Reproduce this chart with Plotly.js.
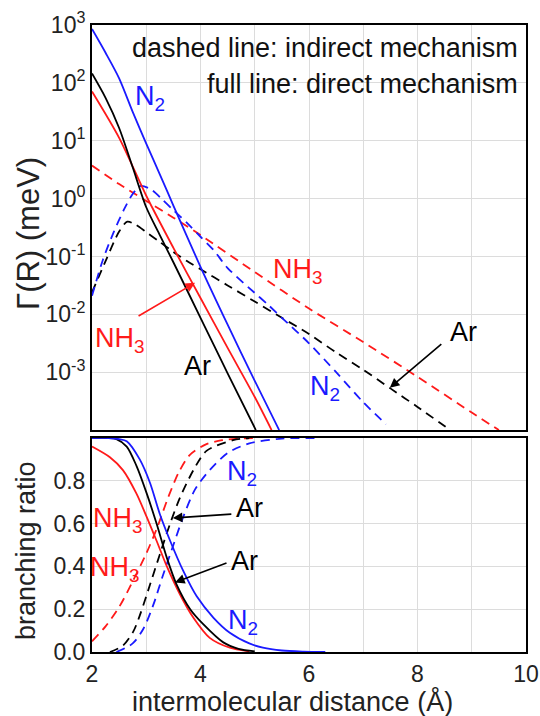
<!DOCTYPE html>
<html>
<head>
<meta charset="utf-8">
<script src="https://cdn.plot.ly/plotly-3.0.1.min.js"></script>
<style>html,body{margin:0;padding:0;background:#fff;}#chart{width:540px;height:716px;}</style>
</head>
<body>
<div id="chart"></div>
<script>
// ---------- Top panel: decay widths Γ(R) in meV ----------
const R_N2_direct  = [2.0, 2.25, 2.5, 2.75, 3.0, 3.25, 3.5, 4.0, 4.5, 5.0, 5.45];
const G_N2_direct  = [851, 331, 120, 31.6, 8.91, 2.63, 0.759, 0.0661, 0.00661, 0.000708, 0.0001];
const R_Ar_direct  = [2.0, 2.25, 2.5, 2.75, 3.0, 3.25, 3.5, 4.0, 4.5, 5.02];
const G_Ar_direct  = [145, 55.0, 16.6, 3.47, 0.708, 0.234, 0.0794, 0.00871, 0.000955, 0.0001];
const R_NH3_direct = [2.0, 2.5, 3.0, 3.5, 4.0, 4.5, 5.0, 5.31];
const G_NH3_direct = [70.8, 11.2, 1.12, 0.141, 0.0191, 0.00263, 0.000372, 0.0001];

const R_N2_indirect  = [2.0, 2.2, 2.4, 2.6, 2.75, 2.9, 3.1, 3.3, 3.5, 3.75, 4.0, 4.25, 4.5, 5.0, 5.25, 5.5, 6.0, 6.5, 7.0, 7.42];
const G_N2_indirect  = [0.0209, 0.0871, 0.263, 0.676, 1.20, 1.66, 1.41, 0.955, 0.631, 0.380, 0.219, 0.126, 0.0631, 0.0234, 0.0145, 0.00871, 0.00316, 0.001, 0.000302, 0.000126];
const R_Ar_indirect  = [2.0, 2.25, 2.5, 2.65, 2.8, 3.0, 3.25, 3.5, 3.75, 4.0, 4.5, 5.0, 5.5, 6.0, 6.5, 7.0, 7.5, 8.0, 8.6];
const G_Ar_indirect  = [0.024, 0.0832, 0.269, 0.398, 0.355, 0.263, 0.178, 0.120, 0.0832, 0.0603, 0.0316, 0.0166, 0.00871, 0.00457, 0.00219, 0.0011, 0.000525, 0.000251, 0.0001];
const R_NH3_indirect = [2.0, 2.5, 3.0, 3.5, 4.0, 5.0, 6.0, 7.0, 8.0, 9.0, 9.5];
const G_NH3_indirect = [3.72, 1.78, 0.912, 0.468, 0.234, 0.0537, 0.0126, 0.00331, 0.000832, 0.0002, 0.0001];

// ---------- Bottom panel: branching ratios ----------
const RB_N2_direct  = [2.0, 2.3, 2.5, 2.64, 2.88, 3.07, 3.25, 3.44, 3.68, 3.93, 4.24, 4.54, 4.9, 5.15, 5.5, 5.9, 6.3];
const B_N2_direct   = [1.0, 1.0, 0.995, 0.985, 0.9, 0.79, 0.645, 0.52, 0.38, 0.26, 0.16, 0.09, 0.04, 0.02, 0.007, 0.002, 0.0];
const RB_Ar_direct  = [2.0, 2.3, 2.45, 2.64, 2.82, 3.01, 3.19, 3.38, 3.56, 3.81, 4.05, 4.42, 4.7, 5.0];
const B_Ar_direct   = [1.0, 1.0, 0.995, 0.96, 0.87, 0.74, 0.6, 0.44, 0.315, 0.2, 0.13, 0.045, 0.015, 0.003];
const RB_NH3_direct = [2.0, 2.33, 2.57, 2.82, 3.01, 3.19, 3.38, 3.62, 3.87, 4.17, 4.54, 4.9];
const B_NH3_direct  = [0.96, 0.91, 0.85, 0.74, 0.63, 0.52, 0.40, 0.27, 0.16, 0.066, 0.02, 0.003];

const RB_N2_indirect  = [2.45, 2.75, 2.95, 3.13, 3.31, 3.5, 3.68, 3.9, 4.17, 4.5, 4.9, 5.5, 6.15];
const B_N2_indirect   = [0.0, 0.04, 0.11, 0.22, 0.36, 0.5, 0.63, 0.76, 0.85, 0.93, 0.975, 0.997, 1.0];
const RB_Ar_indirect  = [2.33, 2.57, 2.76, 2.88, 3.07, 3.25, 3.44, 3.62, 3.87, 4.11, 4.6, 4.9];
const B_Ar_indirect   = [0.0, 0.03, 0.095, 0.17, 0.315, 0.456, 0.6, 0.72, 0.85, 0.94, 0.99, 1.0];
const RB_NH3_indirect = [2.0, 2.25, 2.5, 2.75, 3.0, 3.2, 3.4, 3.6, 3.8, 4.1, 4.4, 5.0];
const B_NH3_indirect  = [0.05, 0.12, 0.21, 0.33, 0.46, 0.58, 0.72, 0.84, 0.92, 0.97, 0.99, 1.0];

// ---------- Axis tick labels ----------
const xTickVals = [2, 3, 4, 5, 6, 7, 8, 9, 10];
const xTickText = ['2', '', '4', '', '6', '', '8', '', '10'];
const yTopTickVals = [1e-4, 1e-3, 1e-2, 1e-1, 1e0, 1e1, 1e2, 1e3];
const yTopTickText = ['', '10<sup>-3</sup>', '10<sup>-2</sup>', '10<sup>-1</sup>', '10<sup>0</sup>', '10<sup>1</sup>', '10<sup>2</sup>', '10<sup>3</sup>'];
const yBotTickVals = [0, 0.2, 0.4, 0.6, 0.8, 1.0];
const yBotTickText = ['0.0', '0.2', '0.4', '0.6', '0.8', ''];

const BLUE = '#1a1aff', RED = '#ff1a1a', BLACK = '#000000';
const DASH = '9px,6px';
const FONT = 'Liberation Sans, Arial, sans-serif';

function tr(x, y, color, dashed, xa, ya) {
  return {x: x, y: y, xaxis: xa, yaxis: ya, type: 'scatter', mode: 'lines',
    line: {color: color, width: 1.8, dash: dashed ? DASH : 'solid', shape: 'spline', smoothing: 0.8},
    hoverinfo: 'skip', showlegend: false};
}

const data = [
  tr(R_NH3_indirect, G_NH3_indirect, RED, true, 'x', 'y'),
  tr(R_Ar_indirect, G_Ar_indirect, BLACK, true, 'x', 'y'),
  tr(R_N2_indirect, G_N2_indirect, BLUE, true, 'x', 'y'),
  tr(R_NH3_direct, G_NH3_direct, RED, false, 'x', 'y'),
  tr(R_Ar_direct, G_Ar_direct, BLACK, false, 'x', 'y'),
  tr(R_N2_direct, G_N2_direct, BLUE, false, 'x', 'y'),
  tr(RB_NH3_indirect, B_NH3_indirect, RED, true, 'x2', 'y2'),
  tr(RB_Ar_indirect, B_Ar_indirect, BLACK, true, 'x2', 'y2'),
  tr(RB_N2_indirect, B_N2_indirect, BLUE, true, 'x2', 'y2'),
  tr(RB_NH3_direct, B_NH3_direct, RED, false, 'x2', 'y2'),
  tr(RB_Ar_direct, B_Ar_direct, BLACK, false, 'x2', 'y2'),
  tr(RB_N2_direct, B_N2_direct, BLUE, false, 'x2', 'y2')
];

const axisCommon = {
  showline: true, mirror: true, linecolor: '#000', linewidth: 2,
  showgrid: true, gridcolor: '#dcdcdc', gridwidth: 1,
  ticks: '', zeroline: false,
  tickfont: {family: FONT, size: 23, color: '#222'}
};

function lab(text, x, y, color, xr, yr) {
  return {text: text, x: x, y: y, xref: xr, yref: yr, showarrow: false,
    font: {family: FONT, size: 27, color: color}, xanchor: 'center', yanchor: 'middle'};
}
function arr(x, y, ax, ay, color, xr, yr) {
  return {text: '', x: x, y: y, xref: xr, yref: yr, ax: ax, ay: ay, showarrow: true,
    arrowhead: 2, arrowsize: 1.2, arrowwidth: 1.6, arrowcolor: color, standoff: 0, startstandoff: 0};
}

const layout = {
  width: 540, height: 716,
  margin: {l: 92, r: 14, t: 25, b: 64},
  paper_bgcolor: '#fff', plot_bgcolor: '#fff',
  showlegend: false,
  xaxis: Object.assign({}, axisCommon, {anchor: 'y', range: [2, 10], tickvals: xTickVals, showticklabels: false}),
  yaxis: Object.assign({}, axisCommon, {domain: [0.354, 1], type: 'log', range: [-4, 3],
    tickvals: yTopTickVals, ticktext: yTopTickText}),
  xaxis2: Object.assign({}, axisCommon, {anchor: 'y2', range: [2, 10], tickvals: xTickVals, ticktext: xTickText}),
  yaxis2: Object.assign({}, axisCommon, {domain: [0, 0.3413], range: [0, 1],
    tickvals: yBotTickVals, ticktext: yBotTickText}),
  annotations: [
    {text: 'dashed line: indirect mechanism', xref: 'paper', yref: 'paper', x: 0.986, y: 0.963,
      xanchor: 'right', yanchor: 'middle', showarrow: false, font: {family: FONT, size: 27, color: '#111'}},
    {text: 'full line: direct mechanism', xref: 'paper', yref: 'paper', x: 0.986, y: 0.906,
      xanchor: 'right', yanchor: 'middle', showarrow: false, font: {family: FONT, size: 27, color: '#111'}},
    {text: 'intermolecular distance (Å)', xref: 'paper', yref: 'paper', x: 0.463, y: -0.079,
      xanchor: 'center', yanchor: 'middle', showarrow: false, font: {family: FONT, size: 27, color: '#222'}},
    {text: 'Γ(R) (meV)', xref: 'paper', yref: 'paper', x: -0.148, y: 0.668, textangle: -90,
      xanchor: 'center', yanchor: 'middle', showarrow: false, font: {family: FONT, size: 31, color: '#222'}},
    {text: 'branching ratio', xref: 'paper', yref: 'paper', x: -0.152, y: 0.161, textangle: -90,
      xanchor: 'center', yanchor: 'middle', showarrow: false, font: {family: FONT, size: 27, color: '#222'}},
    // top panel labels
    lab('N<sub>2</sub>', 3.07, 1.74, BLUE, 'x', 'y'),
    lab('NH<sub>3</sub>', 5.80, -1.25, RED, 'x', 'y'),
    lab('Ar', 8.84, -2.30, BLACK, 'x', 'y'),
    lab('N<sub>2</sub>', 6.29, -3.28, BLUE, 'x', 'y'),
    lab('NH<sub>3</sub>', 2.52, -2.45, RED, 'x', 'y'),
    lab('Ar', 3.94, -2.89, BLACK, 'x', 'y'),
    arr(3.90, -1.456, -58, 34, RED, 'x', 'y'),
    arr(7.49, -3.27, 53, -45, BLACK, 'x', 'y'),
    // bottom panel labels
    lab('N<sub>2</sub>', 4.76, 0.835, BLUE, 'x2', 'y2'),
    lab('Ar', 4.91, 0.675, BLACK, 'x2', 'y2'),
    lab('NH<sub>3</sub>', 2.48, 0.615, RED, 'x2', 'y2'),
    lab('NH<sub>3</sub>', 2.42, 0.39, RED, 'x2', 'y2'),
    lab('Ar', 4.82, 0.424, BLACK, 'x2', 'y2'),
    lab('N<sub>2</sub>', 4.78, 0.14, BLUE, 'x2', 'y2'),
    arr(3.49, 0.626, 60, -4, BLACK, 'x2', 'y2'),
    arr(3.53, 0.325, 53, -20, BLACK, 'x2', 'y2')
  ]
};

Plotly.newPlot('chart', data, layout, {displayModeBar: false, staticPlot: true});
</script>
</body>
</html>
